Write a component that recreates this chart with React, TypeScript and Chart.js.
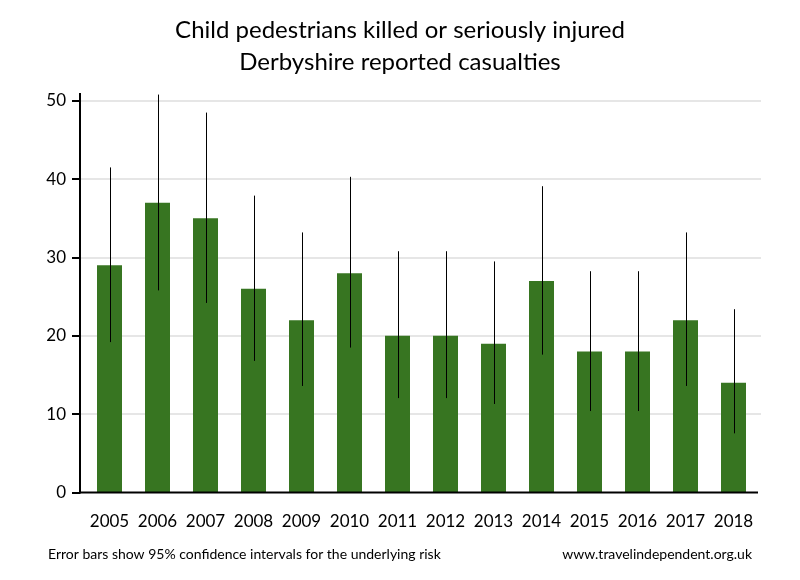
import React, { useEffect, useRef } from "react";
import { Chart, registerables } from "chart.js";

Chart.register(...registerables);

const years = ["2005", "2006", "2007", "2008", "2009", "2010", "2011", "2012", "2013", "2014", "2015", "2016", "2017", "2018"];
const casualties = [29, 37, 35, 26, 22, 28, 20, 20, 19, 27, 18, 18, 22, 14];
const ciLow = [19.2, 25.8, 24.2, 16.8, 13.6, 18.5, 12.05, 12.05, 11.3, 17.6, 10.4, 10.4, 13.6, 7.55];
const ciHigh = [41.5, 50.8, 48.5, 37.9, 33.2, 40.3, 30.8, 30.8, 29.5, 39.1, 28.25, 28.25, 33.2, 23.4];
const titleLines = ["Child pedestrians killed or seriously injured", "Derbyshire reported casualties"];
const footLeft = "Error bars show 95% confidence intervals for the underlying risk";
const footRight = "www.travelindependent.org.uk";

const FONT = "Lato, 'Open Sans', sans-serif";

const axesPlugin = {
  id: "customAxes",
  beforeDatasetsDraw(chart: any) {
    const { ctx, chartArea, scales } = chart;
    const y = scales.y;
    const axisX = chartArea.left - 5.5;
    ctx.save();
    ctx.strokeStyle = "#e6e6e6";
    ctx.lineWidth = 2;
    y.ticks.forEach((t: any) => {
      if (t.value === 0) return;
      const py = Math.round(y.getPixelForValue(t.value));
      ctx.beginPath();
      ctx.moveTo(axisX, py);
      ctx.lineTo(chartArea.right + 3.5, py);
      ctx.stroke();
    });
    ctx.restore();
  },
  afterDatasetsDraw(chart: any) {
    const { ctx, chartArea, scales } = chart;
    const y = scales.y;
    const meta = chart.getDatasetMeta(0);
    ctx.save();
    ctx.strokeStyle = "#000";
    ctx.lineWidth = 1;
    meta.data.forEach((bar: any, i: number) => {
      const x = Math.round(bar.x) + 0.5;
      ctx.beginPath();
      ctx.moveTo(x, y.getPixelForValue(ciHigh[i]));
      ctx.lineTo(x, y.getPixelForValue(ciLow[i]));
      ctx.stroke();
    });
    const axisX = chartArea.left - 5.5;
    const bottom = y.getPixelForValue(0);
    ctx.strokeStyle = "#000";
    ctx.lineWidth = 2;
    ctx.beginPath();
    ctx.moveTo(axisX, chartArea.top);
    ctx.lineTo(axisX, bottom + 1);
    ctx.stroke();
    ctx.beginPath();
    ctx.moveTo(axisX - 1, bottom);
    ctx.lineTo(chartArea.right + 0.5, bottom);
    ctx.stroke();
    y.ticks.forEach((t: any) => {
      const py = Math.round(y.getPixelForValue(t.value));
      ctx.beginPath();
      ctx.moveTo(axisX - 8, py);
      ctx.lineTo(axisX, py);
      ctx.stroke();
    });
    ctx.restore();
  },
  afterDraw(chart: any) {
    const { ctx } = chart;
    ctx.save();
    ctx.fillStyle = "#000";
    ctx.font = `14px ${FONT}`;
    ctx.textBaseline = "middle";
    ctx.textAlign = "left";
    ctx.fillText(footLeft, 48, 554);
    ctx.textAlign = "right";
    ctx.fillText(footRight, 752, 554);
    ctx.restore();
  },
};

export default function App() {
  const ref = useRef<HTMLCanvasElement>(null);
  useEffect(() => {
    if (!ref.current) return;
    const chart = new Chart(ref.current, {
      type: "bar",
      data: {
        labels: years,
        datasets: [
          {
            data: casualties,
            backgroundColor: "#377521",
            borderWidth: 0,
            barPercentage: 25 / 48,
            categoryPercentage: 1,
          },
        ],
      },
      plugins: [axesPlugin],
      options: {
        animation: false,
        responsive: true,
        maintainAspectRatio: false,
        layout: { padding: { left: 42.5, right: 42.5, top: 0, bottom: 48 } },
        plugins: {
          legend: { display: false },
          tooltip: { enabled: false },
          title: {
            display: true,
            text: titleLines,
            color: "#000",
            font: { family: FONT, size: 24, weight: "normal", lineHeight: 32 / 24 },
            padding: { top: 14, bottom: 15 },
          },
        },
        scales: {
          x: {
            type: "category",
            offset: true,
            grid: { display: false, drawTicks: false },
            border: { display: false },
            ticks: { color: "#000", font: { family: FONT, size: 17 }, padding: 19, maxRotation: 0 },
            afterFit: (s: any) => { s.height = 39.5; },
          },
          y: {
            min: 0,
            max: 51,
            grid: { display: false, drawTicks: false },
            border: { display: false },
            ticks: { stepSize: 10, includeBounds: false, color: "#000", font: { family: FONT, size: 17 }, padding: 19.5 },
            afterFit: (s: any) => { s.width = 43; },
          },
        },
      },
    });
    return () => chart.destroy();
  }, []);
  return (
    <div style={{ position: "fixed", left: 0, top: 0, width: 800, height: 580, background: "#fff" }}>
      <canvas ref={ref} />
    </div>
  );
}
